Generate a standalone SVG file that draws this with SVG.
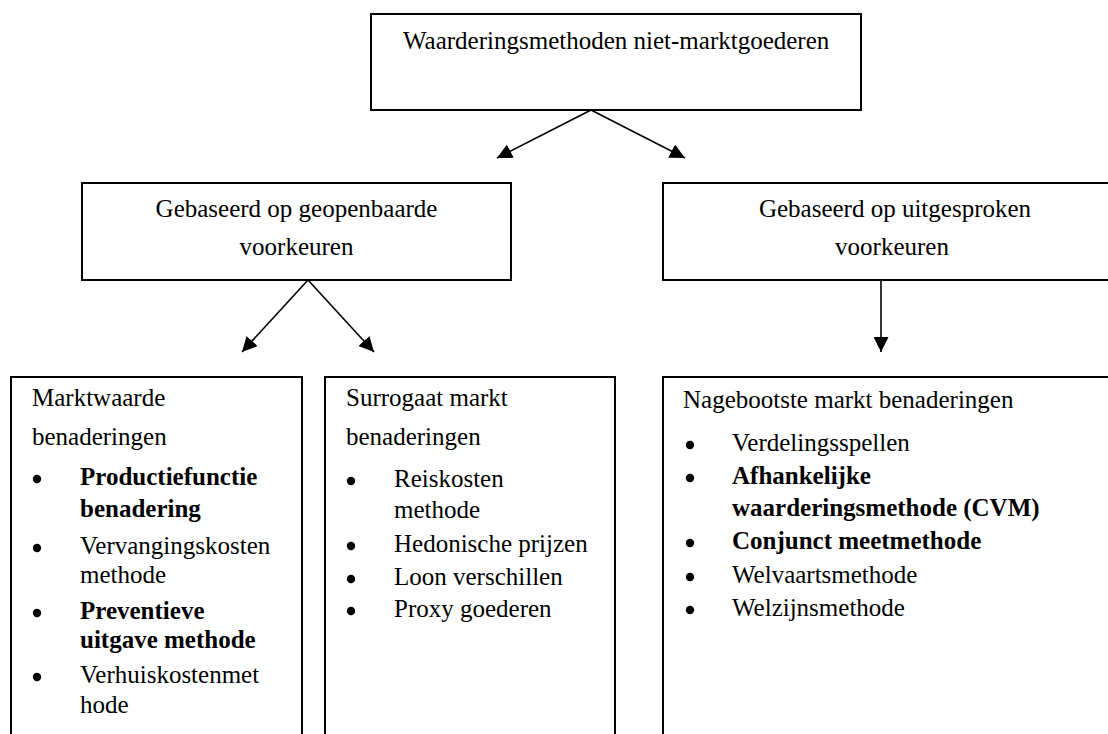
<svg xmlns="http://www.w3.org/2000/svg" width="1108" height="734" viewBox="0 0 1108 734">
<style>
.box{fill:#fff;stroke:#000;stroke-width:2}
text{font-family:"Liberation Serif","Times New Roman",serif;font-size:25px;fill:#000}
.b{font-weight:bold}
.c{text-anchor:middle}
.con{stroke:#000;stroke-width:1.6;fill:none;marker-end:url(#ah)}
</style>
<defs>
<marker id="ah" viewBox="0 0 10 10" refX="10" refY="5" markerWidth="15" markerHeight="15" markerUnits="userSpaceOnUse" orient="auto">
<path d="M0,0 L10,5 L0,10 z" fill="#000"/>
</marker>
<circle id="bul" r="4.2" fill="#000"/>
</defs>
<rect width="1108" height="734" fill="#fff"/>
<g id="top">
<rect class="box" x="371" y="14" width="490" height="96"/>
<text x="403" y="49">Waarderingsmethoden niet-marktgoederen</text>
</g>
<g id="revealed">
<rect class="box" x="82" y="183" width="429" height="97"/>
<text class="c" x="296.5" y="217">Gebaseerd op geopenbaarde</text>
<text class="c" x="296.5" y="255">voorkeuren</text>
</g>
<g id="stated">
<rect class="box" x="663" y="183" width="460" height="97"/>
<text class="c" x="895" y="217">Gebaseerd op uitgesproken</text>
<text class="c" x="892" y="255">voorkeuren</text>
</g>
<g id="marktwaarde">
<rect class="box" x="11" y="377" width="291" height="380"/>
<text x="32" y="406">Marktwaarde</text>
<text x="32" y="445">benaderingen</text>
<use href="#bul" x="37" y="479"/>
<text class="b" x="80" y="485">Productiefunctie</text>
<text class="b" x="80" y="517">benadering</text>
<use href="#bul" x="37" y="548"/>
<text x="80" y="554">Vervangingskosten</text>
<text x="80" y="583">methode</text>
<use href="#bul" x="37" y="613"/>
<text class="b" x="80" y="619">Preventieve</text>
<text class="b" x="80" y="648">uitgave methode</text>
<use href="#bul" x="37" y="677"/>
<text x="80" y="683">Verhuiskostenmet</text>
<text x="80" y="713">hode</text>
</g>
<g id="surrogaat">
<rect class="box" x="325" y="377" width="290" height="380"/>
<text x="346" y="406">Surrogaat markt</text>
<text x="346" y="445">benaderingen</text>
<use href="#bul" x="351" y="481"/>
<text x="394" y="487">Reiskosten</text>
<text x="394" y="518">methode</text>
<use href="#bul" x="351" y="546"/>
<text x="394" y="552">Hedonische prijzen</text>
<use href="#bul" x="351" y="579"/>
<text x="394" y="585">Loon verschillen</text>
<use href="#bul" x="351" y="611"/>
<text x="394" y="617">Proxy goederen</text>
</g>
<g id="nagebootst">
<rect class="box" x="663" y="377" width="460" height="380"/>
<text x="683" y="408">Nagebootste markt benaderingen</text>
<use href="#bul" x="690" y="445"/>
<text x="732" y="451">Verdelingsspellen</text>
<use href="#bul" x="690" y="478"/>
<text class="b" x="732" y="484">Afhankelijke</text>
<text class="b" x="732" y="516">waarderingsmethode (CVM)</text>
<use href="#bul" x="690" y="543"/>
<text class="b" x="732" y="549">Conjunct meetmethode</text>
<use href="#bul" x="690" y="577"/>
<text x="732" y="583">Welvaartsmethode</text>
<use href="#bul" x="690" y="610"/>
<text x="732" y="616">Welzijnsmethode</text>
</g>
<g id="connectors">
<line class="con" x1="591" y1="110" x2="497" y2="158"/>
<line class="con" x1="591" y1="110" x2="685" y2="158"/>
<line class="con" x1="308" y1="280" x2="242" y2="352"/>
<line class="con" x1="308" y1="280" x2="374" y2="352"/>
<line class="con" x1="881" y1="280" x2="881" y2="352"/>
</g>
</svg>
